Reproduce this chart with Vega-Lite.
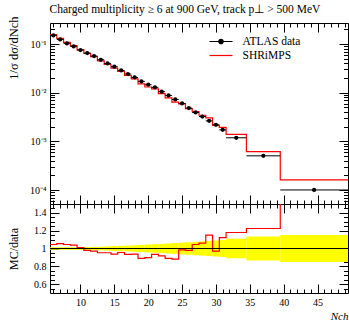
{
  "$schema": "https://vega.github.io/schema/vega-lite/v6.json",
  "padding": {"left": 6, "top": 3, "right": 1, "bottom": 0},
  "background": "white",
  "config": {
    "view": {"stroke": "black", "strokeWidth": 1},
    "font": "Liberation Serif",
    "axis": {"domain": false, "grid": false, "tickColor": "black", "labelColor": "black", "labelFont": "Liberation Serif", "labelFontSize": 10, "titleFont": "Liberation Serif", "titleFontWeight": "normal", "titleFontSize": 11, "titleColor": "black", "labelFlush": false, "labelOverlap": false, "tickWidth": 1}
  },
  "title": {"text": "Charged multiplicity ≥ 6 at 900 GeV, track p⊥ > 500 MeV", "anchor": "start", "font": "Liberation Serif", "fontSize": 11.5, "fontWeight": "normal", "color": "black", "offset": 0.5, "dx": 43},
  "datasets": {
    "bins": [
      {"c": 6, "lo": 5.5, "hi": 6.5, "d": 0.150, "mc": 0.1568, "r": 1.045, "blo": 0.986, "bhi": 1.014},
      {"c": 7, "lo": 6.5, "hi": 7.5, "d": 0.124, "mc": 0.1308, "r": 1.055, "blo": 0.986, "bhi": 1.014},
      {"c": 8, "lo": 7.5, "hi": 8.5, "d": 0.103, "mc": 0.1076, "r": 1.045, "blo": 0.986, "bhi": 1.014},
      {"c": 9, "lo": 8.5, "hi": 9.5, "d": 0.0893, "mc": 0.0927, "r": 1.038, "blo": 0.985, "bhi": 1.015},
      {"c": 10, "lo": 9.5, "hi": 10.5, "d": 0.0752, "mc": 0.0760, "r": 1.01, "blo": 0.984, "bhi": 1.016},
      {"c": 11, "lo": 10.5, "hi": 11.5, "d": 0.0653, "mc": 0.0639, "r": 0.978, "blo": 0.983, "bhi": 1.017},
      {"c": 12, "lo": 11.5, "hi": 12.5, "d": 0.0566, "mc": 0.0549, "r": 0.97, "blo": 0.982, "bhi": 1.018},
      {"c": 13, "lo": 12.5, "hi": 13.5, "d": 0.0475, "mc": 0.0452, "r": 0.952, "blo": 0.98, "bhi": 1.02},
      {"c": 14, "lo": 13.5, "hi": 14.5, "d": 0.040, "mc": 0.0381, "r": 0.952, "blo": 0.977, "bhi": 1.023},
      {"c": 15, "lo": 14.5, "hi": 15.5, "d": 0.0342, "mc": 0.0320, "r": 0.936, "blo": 0.973, "bhi": 1.027},
      {"c": 16, "lo": 15.5, "hi": 16.5, "d": 0.0287, "mc": 0.0274, "r": 0.955, "blo": 0.97, "bhi": 1.03},
      {"c": 17, "lo": 16.5, "hi": 17.5, "d": 0.0242, "mc": 0.02258, "r": 0.933, "blo": 0.967, "bhi": 1.033},
      {"c": 18, "lo": 17.5, "hi": 18.5, "d": 0.0206, "mc": 0.01928, "r": 0.936, "blo": 0.964, "bhi": 1.036},
      {"c": 19, "lo": 18.5, "hi": 19.5, "d": 0.0171, "mc": 0.01522, "r": 0.89, "blo": 0.96, "bhi": 1.04},
      {"c": 20, "lo": 19.5, "hi": 20.5, "d": 0.0146, "mc": 0.01311, "r": 0.898, "blo": 0.956, "bhi": 1.044},
      {"c": 21, "lo": 20.5, "hi": 21.5, "d": 0.0129, "mc": 0.01204, "r": 0.933, "blo": 0.952, "bhi": 1.048},
      {"c": 22, "lo": 21.5, "hi": 22.5, "d": 0.0105, "mc": 0.00963, "r": 0.917, "blo": 0.948, "bhi": 1.052},
      {"c": 23, "lo": 22.5, "hi": 23.5, "d": 0.0088, "mc": 0.00783, "r": 0.89, "blo": 0.943, "bhi": 1.057},
      {"c": 24, "lo": 23.5, "hi": 24.5, "d": 0.00728, "mc": 0.00641, "r": 0.88, "blo": 0.938, "bhi": 1.062},
      {"c": 25, "lo": 24.5, "hi": 25.5, "d": 0.00602, "mc": 0.00593, "r": 0.985, "blo": 0.934, "bhi": 1.066},
      {"c": 26, "lo": 25.5, "hi": 26.5, "d": 0.00484, "mc": 0.00474, "r": 0.98, "blo": 0.93, "bhi": 1.07},
      {"c": 27, "lo": 26.5, "hi": 27.5, "d": 0.00393, "mc": 0.00411, "r": 1.045, "blo": 0.925, "bhi": 1.075},
      {"c": 28, "lo": 27.5, "hi": 28.5, "d": 0.00325, "mc": 0.00345, "r": 1.06, "blo": 0.92, "bhi": 1.08},
      {"c": 29, "lo": 28.5, "hi": 29.5, "d": 0.00265, "mc": 0.00305, "r": 1.15, "blo": 0.915, "bhi": 1.085},
      {"c": 30, "lo": 29.5, "hi": 30.5, "d": 0.0022, "mc": 0.00213, "r": 0.97, "blo": 0.91, "bhi": 1.09},
      {"c": 31, "lo": 30.5, "hi": 31.5, "d": 0.00173, "mc": 0.00194, "r": 1.123, "blo": 0.905, "bhi": 1.095},
      {"c": 33, "lo": 31.5, "hi": 34.5, "d": 0.00119, "mc": 0.00140, "r": 1.18, "blo": 0.89, "bhi": 1.11},
      {"c": 37, "lo": 34.5, "hi": 39.5, "d": 0.000507, "mc": 0.000621, "r": 1.225, "blo": 0.865, "bhi": 1.135},
      {"c": 44.5, "lo": 39.5, "hi": 49.5, "d": 0.000101, "mc": 0.000162, "r": 1.6, "blo": 0.848, "bhi": 1.152}
    ]
  },
  "spacing": 0,
  "bounds": "flush",
  "resolve": {"scale": {"color": "independent"}, "legend": {"color": "independent"}},
  "vconcat": [
    {
      "width": 298,
      "height": 181,
      "resolve": {"axis": {"x": "independent", "y": "independent"}},
      "layer": [
        {
          "data": {"name": "bins"},
          "transform": [{"fold": ["lo", "hi"], "as": ["edge", "xv"]}],
          "mark": {"type": "line", "strokeWidth": 1.2, "clip": true},
          "encoding": {
            "x": {"field": "xv", "type": "quantitative",
              "scale": {"domain": [5.5, 49.5], "nice": false, "zero": false},
              "axis": {"orient": "bottom", "values": [6,7,8,9,10,11,12,13,14,15,16,17,18,19,20,21,22,23,24,25,26,27,28,29,30,31,32,33,34,35,36,37,38,39,40,41,42,43,44,45,46,47,48,49],
                "labels": false, "title": null,
                "tickSize": {"condition": {"test": "datum.value % 5 === 0", "value": -9}, "value": -4}}},
            "y": {"field": "mc", "type": "quantitative",
              "scale": {"type": "log", "domain": [5.2e-5, 0.27], "nice": false},
              "axis": {"orient": "left",
                "values": [6e-5,7e-5,8e-5,9e-5,0.0001,0.0002,0.0003,0.0004,0.0005,0.0006,0.0007,0.0008,0.0009,0.001,0.002,0.003,0.004,0.005,0.006,0.007,0.008,0.009,0.01,0.02,0.03,0.04,0.05,0.06,0.07,0.08,0.09,0.1,0.2],
                "labelExpr": "datum.value === 0.1 ? '10⁻¹' : datum.value === 0.01 ? '10⁻²' : datum.value === 0.001 ? '10⁻³' : datum.value === 0.0001 ? '10⁻⁴' : ''",
                "tickSize": {"condition": {"test": "datum.value === 0.1 || datum.value === 0.01 || datum.value === 0.001 || datum.value === 0.0001", "value": -9}, "value": -4.5},
                "labelPadding": 13,
                "title": "1/σ dσ/dNch", "titleAnchor": "end", "titleFontSize": 12.5, "titleX": -30, "titleY": -7}},
            "order": [{"field": "c"}, {"field": "edge", "sort": "descending"}],
            "color": {"datum": "SHRiMPS", "type": "nominal",
              "scale": {"domain": ["ATLAS data", "SHRiMPS"], "range": ["black", "red"]},
              "legend": {"orient": "none", "legendX": 165, "legendY": 12.5, "title": null,
                "symbolType": "stroke", "symbolSize": 100, "symbolStrokeWidth": 1.2,
                "labelFont": "Liberation Serif", "labelFontSize": 11.5, "labelColor": "black", "labelOffset": 15.5, "rowPadding": 2,
                "encode": {"symbols": {"update": {
                  "shape": {"signal": "datum.value === 'ATLAS data' ? 'M-2.3,0H2.3M-0.45,0A0.45,0.45,0,1,1,0.45,0A0.45,0.45,0,1,1,-0.45,0Z' : 'M-2.3,0H2.3'"},
                  "fill": {"signal": "datum.value === 'ATLAS data' ? 'black' : 'transparent'"},
                  "stroke": {"signal": "datum.value === 'ATLAS data' ? 'black' : 'red'"}}}}}}
          }
        },
        {
          "data": {"name": "bins"},
          "mark": {"type": "rule", "strokeWidth": 1},
          "encoding": {
            "x": {"field": "lo", "type": "quantitative",
              "scale": {"domain": [5.5, 49.5], "nice": false, "zero": false},
              "axis": {"orient": "top", "values": [6,7,8,9,10,11,12,13,14,15,16,17,18,19,20,21,22,23,24,25,26,27,28,29,30,31,32,33,34,35,36,37,38,39,40,41,42,43,44,45,46,47,48,49],
                "labels": false, "title": null,
                "tickSize": {"condition": {"test": "datum.value % 5 === 0", "value": -9}, "value": -4}}},
            "x2": {"field": "hi"},
            "y": {"field": "d", "type": "quantitative",
              "scale": {"type": "log", "domain": [5.2e-5, 0.27], "nice": false},
              "axis": {"orient": "right",
                "values": [6e-5,7e-5,8e-5,9e-5,0.0001,0.0002,0.0003,0.0004,0.0005,0.0006,0.0007,0.0008,0.0009,0.001,0.002,0.003,0.004,0.005,0.006,0.007,0.008,0.009,0.01,0.02,0.03,0.04,0.05,0.06,0.07,0.08,0.09,0.1,0.2],
                "labels": false, "title": null,
                "tickSize": {"condition": {"test": "datum.value === 0.1 || datum.value === 0.01 || datum.value === 0.001 || datum.value === 0.0001", "value": -9}, "value": -4.5}}},
            "color": {"datum": "ATLAS data", "type": "nominal"}
          }
        },
        {
          "data": {"name": "bins"},
          "mark": {"type": "point", "filled": true, "size": 18, "color": "black", "opacity": 1},
          "encoding": {
            "x": {"field": "c", "type": "quantitative", "scale": {"domain": [5.5, 49.5], "nice": false, "zero": false}, "axis": null},
            "y": {"field": "d", "type": "quantitative", "scale": {"type": "log", "domain": [5.2e-5, 0.27], "nice": false}, "axis": null}
          }
        }
      ]
    },
    {
      "width": 298,
      "height": 89,
      "resolve": {"axis": {"x": "independent", "y": "independent"}},
      "layer": [
        {
          "data": {"name": "bins"},
          "mark": {"type": "rect", "color": "#ffff00", "clip": true},
          "encoding": {
            "x": {"field": "lo", "type": "quantitative",
              "scale": {"domain": [5.5, 49.5], "nice": false, "zero": false},
              "axis": {"orient": "bottom", "values": [6,7,8,9,10,11,12,13,14,15,16,17,18,19,20,21,22,23,24,25,26,27,28,29,30,31,32,33,34,35,36,37,38,39,40,41,42,43,44,45,46,47,48,49],
                "labelExpr": "datum.value % 5 === 0 ? datum.label : ''",
                "labelPadding": 13,
                "tickSize": {"condition": {"test": "datum.value % 5 === 0", "value": -9}, "value": -4},
                "title": "Nch", "titleAnchor": "end", "titleFontStyle": "italic", "titleFontSize": 11, "titlePadding": -2}},
            "x2": {"field": "hi"},
            "y": {"field": "blo", "type": "quantitative",
              "scale": {"domain": [0.5, 1.5], "nice": false, "zero": false},
              "axis": {"orient": "left",
                "values": [0.55,0.6,0.65,0.7,0.75,0.8,0.85,0.9,0.95,1,1.05,1.1,1.15,1.2,1.25,1.3,1.35,1.4,1.45],
                "labelExpr": "abs(datum.value*5 - round(datum.value*5)) < 1e-6 ? format(datum.value, '~g') : ''",
                "labelPadding": 13,
                "tickSize": {"condition": {"test": "abs(datum.value*5 - round(datum.value*5)) < 1e-6", "value": -9}, "value": -4.5},
                "title": "MC/data", "titleFontSize": 12, "titleX": -30}},
            "y2": {"field": "bhi"}
          }
        },
        {
          "data": {"name": "bins"},
          "transform": [{"fold": ["lo", "hi"], "as": ["edge", "xv"]}],
          "mark": {"type": "line", "color": "red", "strokeWidth": 1.2, "clip": true},
          "encoding": {
            "x": {"field": "xv", "type": "quantitative",
              "scale": {"domain": [5.5, 49.5], "nice": false, "zero": false},
              "axis": {"orient": "top", "values": [6,7,8,9,10,11,12,13,14,15,16,17,18,19,20,21,22,23,24,25,26,27,28,29,30,31,32,33,34,35,36,37,38,39,40,41,42,43,44,45,46,47,48,49],
                "labels": false, "title": null,
                "tickSize": {"condition": {"test": "datum.value % 5 === 0", "value": -9}, "value": -4}}},
            "y": {"field": "r", "type": "quantitative",
              "scale": {"domain": [0.5, 1.5], "nice": false, "zero": false},
              "axis": {"orient": "right",
                "values": [0.55,0.6,0.65,0.7,0.75,0.8,0.85,0.9,0.95,1,1.05,1.1,1.15,1.2,1.25,1.3,1.35,1.4,1.45],
                "labels": false, "title": null,
                "tickSize": {"condition": {"test": "abs(datum.value*5 - round(datum.value*5)) < 1e-6", "value": -9}, "value": -4.5}}},
            "order": [{"field": "c"}, {"field": "edge", "sort": "descending"}]
          }
        },
        {
          "data": {"values": [{}]},
          "mark": {"type": "rule", "color": "black", "strokeWidth": 1},
          "encoding": {
            "y": {"datum": 1, "type": "quantitative", "scale": {"domain": [0.5, 1.5], "nice": false, "zero": false}, "axis": null}
          }
        }
      ]
    }
  ]
}
